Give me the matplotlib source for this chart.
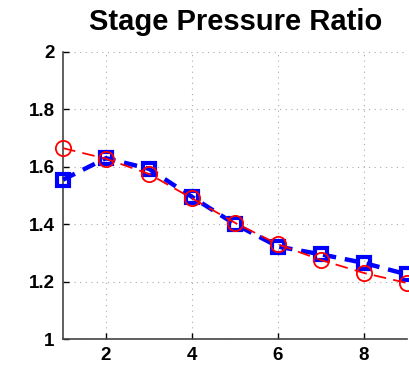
import matplotlib
matplotlib.use("Agg")
import matplotlib.pyplot as plt

stage = [1, 2, 3, 4, 5, 6, 7, 8, 9]
ratio_blue = [1.555, 1.63, 1.593, 1.495, 1.40, 1.322, 1.295, 1.265, 1.225]
ratio_red = [1.665, 1.628, 1.575, 1.49, 1.405, 1.33, 1.275, 1.23, 1.195]
xticks = [2, 4, 6, 8]
yticks = [1, 1.2, 1.4, 1.6, 1.8, 2]
yticklabels = ["1", "1.2", "1.4", "1.6", "1.8", "2"]

plt.rcParams["font.family"] = ["Liberation Sans", "DejaVu Sans"]

W, H = 410, 368
fig = plt.figure(figsize=(W / 100, H / 100), dpi=100)
left, right, top, bottom = 63, 407, 52, 339
ax = fig.add_axes([left / W, 1 - bottom / H, (right - left) / W, (bottom - top) / H])

ax.plot(stage, ratio_blue, color="#0000ff", linestyle=(0, (3, 2)), lw=3.2,
        marker="s", ms=9, mfc="none", mec="#0000ff", mew=3, clip_on=False, zorder=3)
ax.plot(stage, ratio_red, color="#ff0000", linestyle=(0, (7, 4)), lw=1.3,
        marker="o", ms=11, mfc="none", mec="#ff0000", mew=1.3, clip_on=False, zorder=4)

ax.set_xlim(1, 9)
ax.set_ylim(1, 2)
ax.set_xticks(xticks)
ax.set_yticks(yticks)
ax.set_yticklabels(yticklabels)
ax.grid(True, linestyle=(0, (1, 4)), color="#aaaaaa", lw=0.8)
for s in ["top", "right"]:
    ax.spines[s].set_visible(False)
for s in ["left", "bottom"]:
    ax.spines[s].set_linewidth(1.2)
    ax.spines[s].set_color("#444444")
ax.tick_params(direction="in", length=4, width=1, labelsize=13.5, pad=6)
for lab in ax.get_xticklabels() + ax.get_yticklabels():
    lab.set_fontweight("bold")

fig.text(236 / W, 1 - 22 / H, "Stage Pressure Ratio", ha="center", va="center",
         fontsize=21, fontweight="bold")

fig.savefig("out.png", dpi=100)
